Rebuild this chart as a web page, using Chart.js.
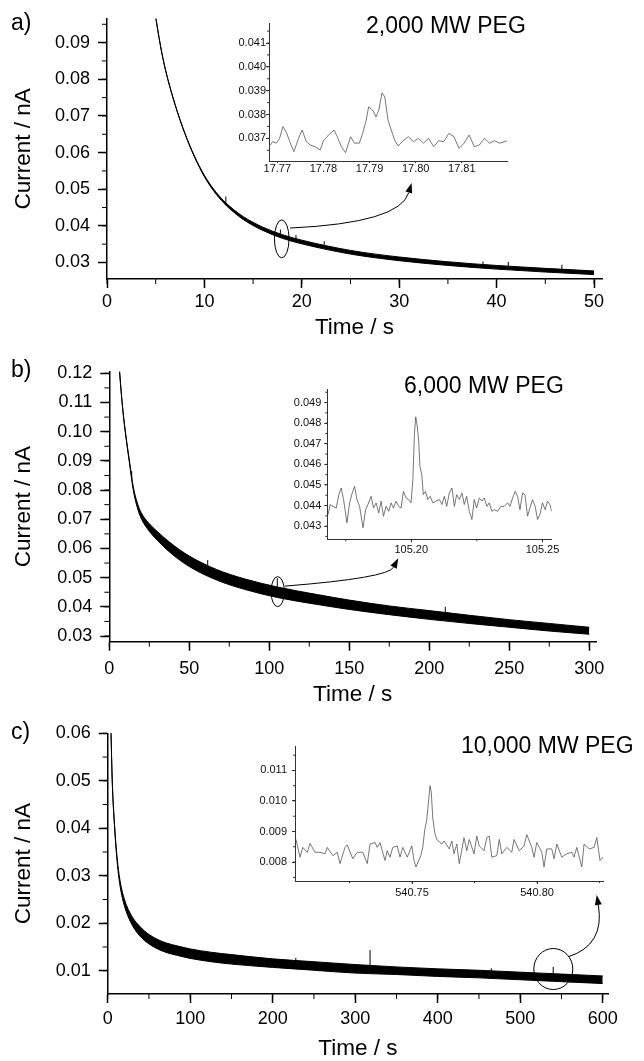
<!DOCTYPE html>
<html>
<head>
<meta charset="utf-8">
<script src="https://cdn.jsdelivr.net/npm/chart.js@4.4.1/dist/chart.umd.min.js"></script>
<style>
  body { margin: 0; background: #fff; }
  #fig { position: relative; width: 644px; height: 1061px; overflow: hidden; font-family: 'Liberation Sans', Arial, sans-serif; }
  #fig canvas { position: absolute; }
  .lbl { position: absolute; font-size: 23px; line-height: 1; color: #000; white-space: nowrap; }
</style>
</head>
<body>
<div id="fig">
  <canvas id="main-a" width="644" height="345" style="left:0px;top:0px"></canvas>
  <canvas id="main-b" width="644" height="365" style="left:0px;top:345px"></canvas>
  <canvas id="main-c" width="644" height="358" style="left:0px;top:705px"></canvas>
  <canvas id="inset-a" width="300" height="165" style="left:220px;top:15px"></canvas>
  <canvas id="inset-b" width="300" height="180" style="left:270px;top:380px"></canvas>
  <canvas id="inset-c" width="400" height="170" style="left:240px;top:735px"></canvas>
  <div class="lbl" style="left:11px;top:11px">a)</div>
  <div class="lbl" style="left:11px;top:358px">b)</div>
  <div class="lbl" style="left:11px;top:720px">c)</div>
  <div class="lbl" style="left:366px;top:14px">2,000 MW PEG</div>
  <div class="lbl" style="left:404px;top:374px">6,000 MW PEG</div>
  <div class="lbl" style="left:461px;top:734px">10,000 MW PEG</div>
</div>
<script>
// ---- panel a : 2,000 MW PEG (band of the noisy trace = lower/upper edge)
const timeA  = [4.9, 5.5, 6, 7, 8, 9, 10, 11, 12, 13, 14, 16, 18, 20, 25, 30, 35, 40, 45, 50];
const upperA = [0.0986, 0.0891, 0.0827, 0.0731, 0.0653, 0.05895, 0.0538, 0.04985, 0.0468, 0.04445, 0.0425, 0.03965, 0.0376, 0.0361, 0.0333, 0.0315, 0.0302, 0.0292, 0.0284, 0.0277];
const lowerA = [0.0984, 0.0889, 0.0825, 0.0729, 0.0651, 0.05865, 0.0534, 0.04935, 0.0462, 0.04375, 0.0417, 0.03875, 0.0366, 0.0351, 0.0323, 0.0305, 0.0292, 0.0282, 0.0274, 0.0267];
const spikeTimeA = [12.2, 17.8, 19.4, 22.3, 38.6, 41.2, 46.7];
const spikeBaseA = [0.0463, 0.0378, 0.0365, 0.0348, 0.0294, 0.0290, 0.0282];
const spikeTopA  = [0.0480, 0.0390, 0.0375, 0.0358, 0.0303, 0.0302, 0.0294];
const insetTimeA = [17.7682, 17.769, 17.7698, 17.7705, 17.7712, 17.772, 17.7727, 17.7736, 17.7746, 17.7754, 17.7762, 17.7771, 17.7782, 17.7793, 17.78, 17.7811, 17.7823, 17.783, 17.7839, 17.7848, 17.7859, 17.7867, 17.7878, 17.7885, 17.7892, 17.7898, 17.7907, 17.7914, 17.792, 17.7927, 17.7933, 17.794, 17.7947, 17.7955, 17.7962, 17.7973, 17.7984, 17.7995, 17.8006, 17.8017, 17.8028, 17.8039, 17.805, 17.8061, 17.8072, 17.8083, 17.8094, 17.8105, 17.8116, 17.8127, 17.8138, 17.8149, 17.816, 17.8171, 17.8182, 17.8193, 17.8198];
const insetCurrentA = [0.03665, 0.03686, 0.0368, 0.0370, 0.03749, 0.03724, 0.03686, 0.03644, 0.0370, 0.03735, 0.0369, 0.03672, 0.03665, 0.03651, 0.0369, 0.03714, 0.03735, 0.03707, 0.03665, 0.0364, 0.03707, 0.0368, 0.0368, 0.03721, 0.0377, 0.03832, 0.03818, 0.0379, 0.03818, 0.03891, 0.03874, 0.03777, 0.03735, 0.0369, 0.03668, 0.0369, 0.03707, 0.03686, 0.0370, 0.0368, 0.0370, 0.03665, 0.0369, 0.03686, 0.03721, 0.03707, 0.03658, 0.0368, 0.03714, 0.03665, 0.03672, 0.0370, 0.0368, 0.0369, 0.0368, 0.03686, 0.0369];

// ---- panel b : 6,000 MW PEG
const timeB  = [6, 8, 10, 12.5, 15, 17.5, 20, 25, 30, 38, 50, 67, 85, 105, 130, 150, 175, 200, 225, 250, 275, 300];
const upperB = [0.1236, 0.1102, 0.1003, 0.0904, 0.0811, 0.0756, 0.0722, 0.0685, 0.0658, 0.0620, 0.0574, 0.0528, 0.0495, 0.0468, 0.0442, 0.0423, 0.0403, 0.0387, 0.0371, 0.0356, 0.0343, 0.0330];
const lowerB = [0.1234, 0.1098, 0.0997, 0.0896, 0.0799, 0.0740, 0.0702, 0.0659, 0.0628, 0.0586, 0.0538, 0.0492, 0.0459, 0.0432, 0.0408, 0.0391, 0.0373, 0.0357, 0.0343, 0.0330, 0.0317, 0.0306];
const spikeTimeB = [14, 61.5, 105, 210];
const spikeBaseB = [0.0840, 0.0540, 0.0468, 0.0381];
const spikeTopB  = [0.0865, 0.0560, 0.0498, 0.0400];
const insetTimeB = [105.1683, 105.1691, 105.1702, 105.1714, 105.1724, 105.1733, 105.1742, 105.1755, 105.1765, 105.1775, 105.1784, 105.1793, 105.1803, 105.1816, 105.1826, 105.1835, 105.1847, 105.1856, 105.1866, 105.1876, 105.1885, 105.1894, 105.1904, 105.1914, 105.1923, 105.1932, 105.1942, 105.1952, 105.1961, 105.1970, 105.1980, 105.1990, 105.1999, 105.2006, 105.2012, 105.2017, 105.2023, 105.2028, 105.2033, 105.2040, 105.2046, 105.2054, 105.2063, 105.2072, 105.2082, 105.2094, 105.2107, 105.2117, 105.2126, 105.2135, 105.2145, 105.2155, 105.2164, 105.2173, 105.2183, 105.2193, 105.2202, 105.2211, 105.2221, 105.2231, 105.2240, 105.2249, 105.2259, 105.2269, 105.2278, 105.2288, 105.2297, 105.2307, 105.2317, 105.2329, 105.2341, 105.2354, 105.2367, 105.2376, 105.2386, 105.2396, 105.2405, 105.2414, 105.2424, 105.2433, 105.2443, 105.2452, 105.2462, 105.2472, 105.2481, 105.2490, 105.2500, 105.2510, 105.2519, 105.2528, 105.2535];
const insetCurrentB = [0.04356, 0.04405, 0.04396, 0.04388, 0.04453, 0.04485, 0.04429, 0.04316, 0.04413, 0.04461, 0.04493, 0.04429, 0.04396, 0.04292, 0.04380, 0.04405, 0.04445, 0.04388, 0.04413, 0.04364, 0.04421, 0.04348, 0.04396, 0.04372, 0.04413, 0.04388, 0.04421, 0.04396, 0.04388, 0.04469, 0.04437, 0.04429, 0.04413, 0.04525, 0.04750, 0.04831, 0.04782, 0.04718, 0.04589, 0.04549, 0.04453, 0.04469, 0.04429, 0.04445, 0.04413, 0.04421, 0.04429, 0.04405, 0.04445, 0.04396, 0.04461, 0.04485, 0.04396, 0.04453, 0.04429, 0.04461, 0.04405, 0.04445, 0.04372, 0.04332, 0.04429, 0.04388, 0.04437, 0.04421, 0.04437, 0.04396, 0.04413, 0.04372, 0.04380, 0.04372, 0.04396, 0.04396, 0.04413, 0.04396, 0.04437, 0.04469, 0.04445, 0.04380, 0.04461, 0.04453, 0.04348, 0.04388, 0.04429, 0.04396, 0.04332, 0.04356, 0.04413, 0.04380, 0.04421, 0.04405, 0.04372];

// ---- panel c : 10,000 MW PEG
const timeC  = [3.9, 5.5, 8.5, 10.5, 13, 16, 20, 25, 31, 38, 45, 57, 70, 85, 100, 125, 150, 200, 250, 300, 350, 400, 450, 500, 550, 600];
const upperC = [0.0611, 0.0502, 0.0403, 0.0356, 0.0313, 0.0280, 0.0252, 0.0229, 0.0210, 0.0195, 0.0183, 0.0169, 0.0159, 0.0152, 0.0146, 0.0139, 0.0134, 0.0125, 0.0119, 0.0113, 0.0108, 0.0104, 0.0101, 0.0097, 0.0093, 0.0089];
const lowerC = [0.0609, 0.0498, 0.0397, 0.0348, 0.0303, 0.0268, 0.0238, 0.0213, 0.0192, 0.0175, 0.0163, 0.0149, 0.0139, 0.0132, 0.0126, 0.0119, 0.0114, 0.0107, 0.0101, 0.0095, 0.0092, 0.0088, 0.0085, 0.0081, 0.0077, 0.0073];
const spikeTimeC = [228, 318, 465, 540];
const spikeBaseC = [0.0121, 0.0112, 0.0100, 0.0094];
const spikeTopC  = [0.0127, 0.01436, 0.0105, 0.0108];
const insetTimeC = [540.7036, 540.7052, 540.7063, 540.7081, 540.7092, 540.7112, 540.7132, 540.7152, 540.7161, 540.7183, 540.7201, 540.7212, 540.7232, 540.7241, 540.7263, 540.7281, 540.7303, 540.7321, 540.7332, 540.7352, 540.7361, 540.7372, 540.7392, 540.7401, 540.7412, 540.7423, 540.7441, 540.7452, 540.7463, 540.7481, 540.7499, 540.7508, 540.7516, 540.7535, 540.7543, 540.7551, 540.7559, 540.7567, 540.7572, 540.7577, 540.7583, 540.7591, 540.7599, 540.7619, 540.7628, 540.7649, 540.7659, 540.7668, 540.7679, 540.7689, 540.7708, 540.7719, 540.7729, 540.7748, 540.7759, 540.7769, 540.7788, 540.7799, 540.7809, 540.7819, 540.7839, 540.7849, 540.7859, 540.7879, 540.7899, 540.7908, 540.7929, 540.7948, 540.7959, 540.7979, 540.7988, 540.7999, 540.8019, 540.8028, 540.8039, 540.8059, 540.8068, 540.8079, 540.8099, 540.8119, 540.8139, 540.8148, 540.8159, 540.8179, 540.8188, 540.8209, 540.8228, 540.8239, 540.8252, 540.8263];
const insetCurrentC = [0.00874, 0.00816, 0.00848, 0.00832, 0.00861, 0.00832, 0.00832, 0.00827, 0.00848, 0.00821, 0.00832, 0.00795, 0.00848, 0.00856, 0.00811, 0.00832, 0.00832, 0.00795, 0.00859, 0.00864, 0.00848, 0.00864, 0.00805, 0.00837, 0.00816, 0.00848, 0.00853, 0.00816, 0.00848, 0.00816, 0.00853, 0.00805, 0.00784, 0.00821, 0.00848, 0.00906, 0.00938, 0.01007, 0.01050, 0.01029, 0.00944, 0.00896, 0.00874, 0.00859, 0.00869, 0.00843, 0.00869, 0.00827, 0.00859, 0.00795, 0.00880, 0.00837, 0.00874, 0.00827, 0.00885, 0.00853, 0.00837, 0.00880, 0.00885, 0.00816, 0.00821, 0.00874, 0.00827, 0.00848, 0.00832, 0.00874, 0.00837, 0.00853, 0.00890, 0.00848, 0.00816, 0.00864, 0.00832, 0.00784, 0.00843, 0.00843, 0.00811, 0.00859, 0.00816, 0.00827, 0.00832, 0.00816, 0.00848, 0.00784, 0.00859, 0.00843, 0.00848, 0.00880, 0.00805, 0.00816];

Chart.defaults.font.family = "'Liberation Sans', Arial, sans-serif";
Chart.defaults.color = '#000';

// ticks at every multiple of step inside the axis range
function stepTicks(step) {
  return axis => {
    const out = [];
    const i0 = Math.ceil(axis.min / step - 1e-6), i1 = Math.floor(axis.max / step + 1e-6);
    for (let i = i0; i <= i1; i++) out.push({ value: Math.round(i * step * 1e6) / 1e6 });
    axis.ticks = out;
  };
}

// short ticks between the labelled ones
function minorTicks(steps, len, color) {
  return {
    id: 'minorTicks',
    afterDraw(chart) {
      const ctx = chart.ctx;
      ctx.save();
      ctx.strokeStyle = color;
      ctx.lineWidth = 1;
      ctx.beginPath();
      ['x', 'y'].forEach(k => {
        const step = steps[k];
        if (!step) return;
        const s = chart.scales[k];
        const i0 = Math.ceil(s.min / step - 1e-6), i1 = Math.floor(s.max / step + 1e-6);
        for (let i = i0; i <= i1; i++) {
          const p = s.getPixelForValue(i * step);
          if (k === 'x') { ctx.moveTo(p, s.top); ctx.lineTo(p, s.top + len); }
          else { ctx.moveTo(s.right, p); ctx.lineTo(s.right - len, p); }
        }
      });
      ctx.stroke();
      ctx.restore();
    }
  };
}

// ellipse round the event and the curved arrow to the inset (positions in data units)
function peakMark(m) {
  return {
    id: 'peakMark',
    afterDatasetsDraw(chart) {
      const {x, y} = chart.scales;
      const ctx = chart.ctx;
      const px = p => [x.getPixelForValue(p[0]), y.getPixelForValue(p[1])];
      const c = px(m.center), a = px(m.from), k = px(m.ctrl), b = px(m.to);
      ctx.save();
      ctx.strokeStyle = '#000';
      ctx.fillStyle = '#000';
      ctx.lineWidth = 1;
      ctx.beginPath();
      ctx.ellipse(c[0], c[1], m.rx, m.ry, 0, 0, 2 * Math.PI);
      ctx.stroke();
      const ang = Math.atan2(b[1] - k[1], b[0] - k[0]);
      const L = 10, W = 3.5;
      const bx = b[0] - L * Math.cos(ang), by = b[1] - L * Math.sin(ang);
      ctx.beginPath();
      ctx.moveTo(a[0], a[1]);
      ctx.quadraticCurveTo(k[0], k[1], bx, by);
      ctx.stroke();
      ctx.beginPath();
      ctx.moveTo(b[0], b[1]);
      ctx.lineTo(bx + W * Math.sin(ang), by - W * Math.cos(ang));
      ctx.lineTo(bx - W * Math.sin(ang), by + W * Math.cos(ang));
      ctx.closePath();
      ctx.fill();
      ctx.restore();
    }
  };
}

function drawMain(id, cfg) {
  const lower = cfg.time.map((t, i) => ({x: t, y: cfg.lower[i]}));
  const upper = cfg.time.map((t, i) => ({x: t, y: cfg.upper[i]}));
  const spikes = [];
  cfg.spikeTime.forEach((t, i) => {
    spikes.push({x: t, y: cfg.spikeBase[i]}, {x: t, y: cfg.spikeTop[i]}, {x: t, y: null});
  });
  new Chart(document.getElementById(id), {
    type: 'line',
    data: {
      datasets: [
        { data: lower, borderColor: '#000', borderWidth: 1, pointRadius: 0, cubicInterpolationMode: 'monotone', fill: false },
        { data: upper, borderColor: '#000', borderWidth: 1, pointRadius: 0, cubicInterpolationMode: 'monotone', fill: '-1', backgroundColor: '#000' },
        { data: spikes, borderColor: '#000', borderWidth: 1, pointRadius: 0, spanGaps: false, fill: false }
      ]
    },
    options: {
      responsive: false,
      animation: false,
      devicePixelRatio: 1,
      layout: { padding: cfg.pad },
      plugins: { legend: { display: false }, tooltip: { enabled: false } },
      scales: {
        x: {
          type: 'linear', min: cfg.xMin, max: cfg.xMax,
          border: { color: '#000', width: 1.5 },
          grid: { drawOnChartArea: false, color: '#000', tickLength: 9, tickWidth: 1.5 },
          ticks: { autoSkip: false, maxRotation: 0, color: '#000', font: { size: 18 }, padding: cfg.xPad,
                   callback: v => String(v) },
          afterBuildTicks: stepTicks(cfg.xStep),
          title: { display: true, text: 'Time / s', color: '#000', font: { size: 22.5 }, padding: 0 },
          afterFit: s => { s.height = cfg.xHeight; }
        },
        y: {
          min: cfg.yMin, max: cfg.yMax,
          border: { color: '#000', width: 1.5 },
          grid: { drawOnChartArea: false, color: '#000', tickLength: 9, tickWidth: 1.5 },
          ticks: { autoSkip: false, color: '#000', font: { size: 18 }, padding: 8,
                   callback: v => Number(v).toFixed(2) },
          afterBuildTicks: stepTicks(0.01),
          title: { display: true, text: 'Current / nA', color: '#000', font: { size: 22.5 }, padding: 0 },
          afterFit: s => { s.width = cfg.yWidth; }
        }
      }
    },
    plugins: [minorTicks(cfg.minor, 5, '#000'), peakMark(cfg.mark)]
  });
}

function drawInset(id, cfg) {
  new Chart(document.getElementById(id), {
    type: 'line',
    data: {
      datasets: [{
        data: cfg.time.map((t, i) => ({x: t, y: cfg.current[i]})),
        borderColor: '#555', borderWidth: 0.8, pointRadius: 0, fill: false
      }]
    },
    options: {
      responsive: false,
      animation: false,
      devicePixelRatio: 1,
      layout: { padding: cfg.pad },
      plugins: { legend: { display: false }, tooltip: { enabled: false } },
      scales: {
        x: {
          type: 'linear', min: cfg.xMin, max: cfg.xMax,
          border: { color: '#333', width: 1 },
          grid: { drawOnChartArea: false, color: '#333', tickLength: cfg.xTick, tickWidth: 1 },
          ticks: { autoSkip: false, maxRotation: 0, color: '#111', font: { size: 11 }, padding: cfg.xPad,
                   callback: v => Number(v).toFixed(2) },
          afterBuildTicks: stepTicks(cfg.xStep),
          afterFit: s => { s.height = cfg.xHeight; }
        },
        y: {
          min: cfg.yMin, max: cfg.yMax,
          border: { color: '#333', width: 1 },
          grid: { drawOnChartArea: false, color: '#333', tickLength: 3, tickWidth: 1 },
          ticks: { autoSkip: false, color: '#111', font: { size: 11 }, padding: cfg.yPad,
                   callback: v => Number(v).toFixed(3) },
          afterBuildTicks: stepTicks(0.001),
          afterFit: s => { s.width = cfg.yWidth; }
        }
      }
    },
    plugins: [minorTicks(cfg.minor, 2, '#333')]
  });
}

drawMain('main-a', {
  time: timeA, upper: upperA, lower: lowerA,
  spikeTime: spikeTimeA, spikeBase: spikeBaseA, spikeTop: spikeTopA,
  xMin: 0, xMax: 50.82, xStep: 10, yMin: 0.0255, yMax: 0.0965,
  minor: { x: 5, y: 0.005 },
  pad: { left: 10, top: 15, right: 42, bottom: 4 }, xHeight: 62, yWidth: 97, xPad: 3,
  mark: { center: [17.94, 0.03645], rx: 7.3, ry: 19, from: [18.79, 0.0394], ctrl: [30.08, 0.0408], to: [31.27, 0.0517] }
});

drawMain('main-b', {
  time: timeB, upper: upperB, lower: lowerB,
  spikeTime: spikeTimeB, spikeBase: spikeBaseB, spikeTop: spikeTopB,
  xMin: 0, xMax: 304.2, xStep: 50, yMin: 0.02805, yMax: 0.12055,
  minor: { x: 25, y: 0.005 },
  pad: { left: 10, top: 26.7, right: 48, bottom: 1.3 }, xHeight: 67, yWidth: 99.3, xPad: 8,
  mark: { center: [105.25, 0.0452], rx: 6.7, ry: 15, from: [109.8, 0.0471], ctrl: [174.2, 0.0499], to: [180.6, 0.0566] }
});

drawMain('main-c', {
  time: timeC, upper: upperC, lower: lowerC,
  spikeTime: spikeTimeC, spikeBase: spikeBaseC, spikeTop: spikeTopC,
  xMin: 0, xMax: 606.4, xStep: 100, yMin: 0.0051, yMax: 0.06,
  minor: { x: 50, y: 0.005 },
  pad: { left: 10, top: 28.3, right: 36, bottom: 0.5 }, xHeight: 68.5, yWidth: 97.7, xPad: 5,
  mark: { center: [540.1, 0.01036], rx: 19.5, ry: 20.5, from: [558.3, 0.01295], ctrl: [602.8, 0.01541], to: [592.7, 0.02595] }
});

drawInset('inset-a', {
  time: insetTimeA, current: insetCurrentA,
  xMin: 17.7682, xMax: 17.8198, xStep: 0.01, yMin: 0.03605, yMax: 0.04184,
  minor: { y: 0.0005 },
  pad: { left: 0, top: 8, right: 13, bottom: 0 }, xHeight: 19, yWidth: 49, xTick: 2, xPad: -1, yPad: 0
});

drawInset('inset-b', {
  time: insetTimeB, current: insetCurrentB,
  xMin: 105.168, xMax: 105.2535, xStep: 0.05, yMin: 0.04236, yMax: 0.04963,
  minor: { x: 0.025, y: 0.0005 },
  pad: { left: 0, top: 9.3, right: 18.3, bottom: 0 }, xHeight: 20.7, yWidth: 57.3, xTick: 3, xPad: 1, yPad: 3
});

drawInset('inset-c', {
  time: insetTimeC, current: insetCurrentC,
  xMin: 540.7032, xMax: 540.8265, xStep: 0.05, yMin: 0.00738, yMax: 0.01178,
  minor: { x: 0.025, y: 0.0005 },
  pad: { left: 0, top: 8.3, right: 36.7, bottom: 0 }, xHeight: 24, yWidth: 55, xTick: 3, xPad: 2, yPad: 5
});
</script>
</body>
</html>
